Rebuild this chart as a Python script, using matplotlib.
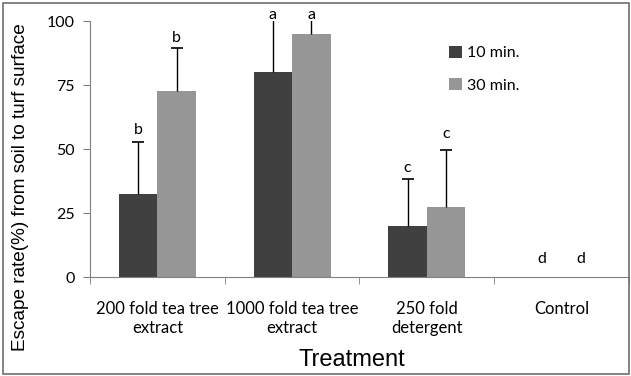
import matplotlib
matplotlib.use('Agg')
import matplotlib.pyplot as plt
import numpy as np
from matplotlib.patches import Rectangle

categories = ['200 fold tea tree\nextract', '1000 fold tea tree\nextract', '250 fold\ndetergent', 'Control']
min10 = [32.5, 80, 20, 0]
min30 = [72.5, 95, 27.5, 0]
err10 = [20.3, 21, 18.3, 0]
err30 = [17, 6, 22, 0]
letters10 = ['b', 'a', 'c', 'd']
letters30 = ['b', 'a', 'c', 'd']
letter_y10 = [57.5, 102.5, 42.5, 7]
letter_y30 = [93.5, 102.5, 56, 7]
yticks = [0, 25, 50, 75, 100]

fig = plt.figure(figsize=(6.31, 3.76), dpi=100)
ax = fig.add_axes([0.1426, 0.263, 0.854, 0.681])
fig.patches.append(Rectangle((0.004, 0.006), 0.993, 0.986, transform=fig.transFigure,
                             fill=False, edgecolor='#6e6e6e', lw=1.2))

x = np.arange(len(categories))
w = 0.2857
dark = '#404040'
light = '#969696'
ax.bar(x - w/2, min10, w, color=dark, label='10 min.')
ax.bar(x + w/2, min30, w, color=light, label='30 min.')

# one-sided (upper) error bars, only where there is an error
for xs, vals, errs in [(x - w/2, min10, err10), (x + w/2, min30, err30)]:
    for xi, v, e in zip(xs, vals, errs):
        if e > 0:
            ax.vlines(xi, v, v + e, color='black', lw=1)
            ax.plot([xi], [v + e], marker='_', ms=8, mew=1.2, color='black')

lf = 'Lato'
for i in range(len(categories)):
    ax.text(x[i] - w/2, letter_y10[i], letters10[i], ha='center', va='center',
            fontsize=11.5, family=lf, clip_on=False)
    ax.text(x[i] + w/2, letter_y30[i], letters30[i], ha='center', va='center',
            fontsize=11.5, family=lf, clip_on=False)

ax.set_xlim(-0.5, 3.5)
ax.set_ylim(0, 100)
ax.set_yticks(yticks)
ax.set_yticklabels([str(v) for v in yticks], family=lf, fontsize=11.5)
ax.set_xticks(x)
ax.set_xticklabels(categories, family=lf, fontsize=12, linespacing=1.25)
ax.set_xticks(np.arange(-0.5, 4, 1), minor=True)
ax.tick_params(axis='x', which='major', length=0, pad=17)
ax.tick_params(axis='x', which='minor', length=5, direction='out', color='#808080')
ax.tick_params(axis='y', length=5, direction='out', color='#808080', pad=6)
for s in ['top', 'right']:
    ax.spines[s].set_visible(False)
for s in ['left', 'bottom']:
    ax.spines[s].set_color('#808080')

ax.set_xlabel('Treatment', family='Liberation Sans', fontsize=17)
ax.xaxis.set_label_coords(0.486, -0.28)
ax.set_ylabel('Escape rate(%) from soil to turf surface', family='Liberation Sans',
              fontsize=13.7)
ax.yaxis.set_label_coords(-0.113, 0.35)

ax.legend(loc='upper left', bbox_to_anchor=(0.64, 0.96), frameon=False, handlelength=0.8,
          handleheight=0.8, handletextpad=0.3, labelspacing=1.1, prop={'family': lf, 'size': 11.5})

fig.savefig('out.png', dpi=100)
